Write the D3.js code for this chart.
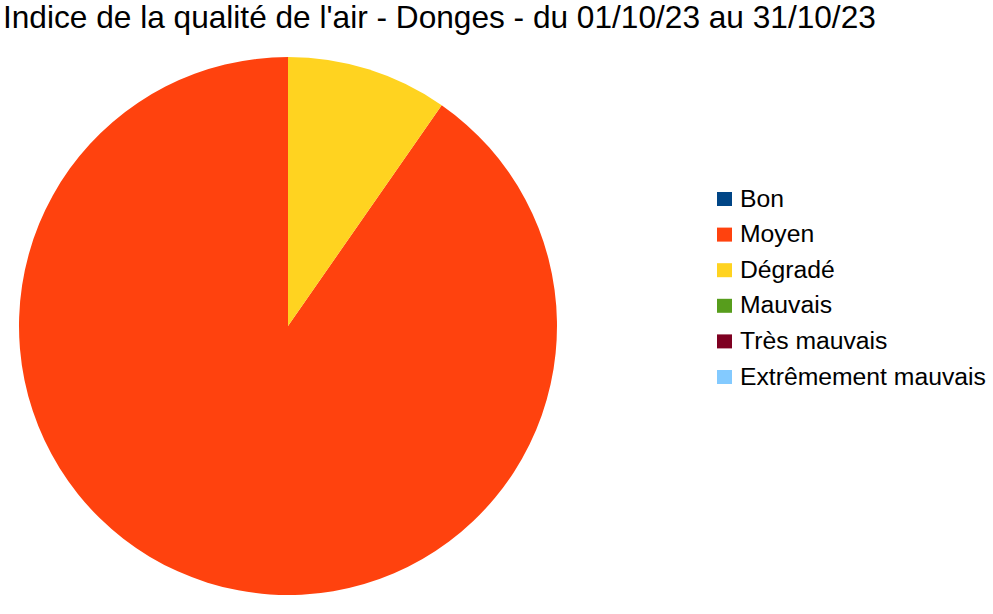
<!DOCTYPE html>
<html><head><meta charset="utf-8">
<script src="https://cdn.jsdelivr.net/npm/d3@7"></script>
<style>body{margin:0;background:#fff}svg{display:block}text{font-family:"Liberation Sans",Arial,sans-serif;fill:#000}</style>
</head><body>
<script>
const title = "Indice de la qualité de l'air - Donges - du 01/10/23 au 31/10/23";
const categories = ["Bon","Moyen","Dégradé","Mauvais","Très mauvais","Extrêmement mauvais"];
const values = [0,28,3,0,0,0];
const colors = ["#004586","#ff420e","#ffd320","#579d1c","#7e0021","#83caff"];

const W=993,H=614;
const svg=d3.select("body").append("svg").attr("width",W).attr("height",H);

const t=svg.append("text").attr("x",3).attr("y",28).style("font-size","27px").text(title);
const tw=t.node().getComputedTextLength();
t.style("font-size",(27*873/tw)+"px");

const cx=288,cy=326,r=269;
const pie=d3.pie().sort(null).value(d=>d.v).startAngle(0).endAngle(-2*Math.PI);
const data=categories.map((c,i)=>({c,v:values[i],col:colors[i]}));
const arc=d3.arc().innerRadius(0).outerRadius(r);
svg.append("g").attr("transform",`translate(${cx},${cy})`)
  .selectAll("path").data(pie(data).filter(d=>d.data.v>0)).join("path")
  .attr("d",arc).attr("fill",d=>d.data.col);

const lg=svg.append("g");
const y=d3.scalePoint().domain(categories).range([199,377]);
categories.forEach((c,i)=>{
  lg.append("rect").attr("x",717).attr("y",y(c)-7).attr("width",15).attr("height",14).attr("fill",colors[i]);
  const tt=lg.append("text").attr("x",740).attr("y",y(c)+7.5).style("font-size","21px").text(c);
  if(i===5){const w=tt.node().getComputedTextLength();lg.selectAll("text").style("font-size",(21*246/w)+"px");}
});
</script>
</body></html>
